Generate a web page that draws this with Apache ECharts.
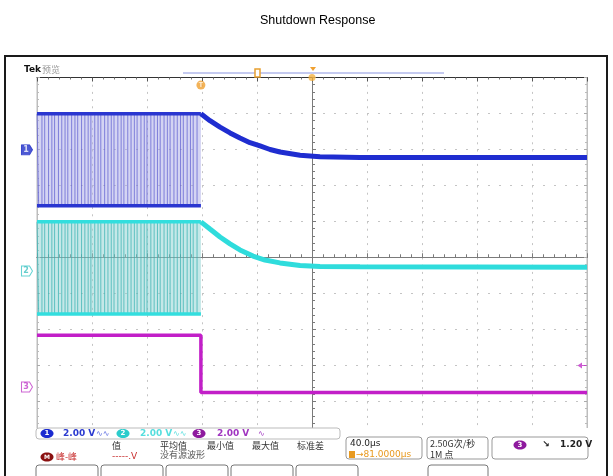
<!DOCTYPE html>
<html><head><meta charset="utf-8">
<script src="https://cdn.jsdelivr.net/npm/echarts@6/dist/echarts.min.js"></script>
<style>html,body{margin:0;padding:0;background:#fff}#main{width:613px;height:476px}</style>
</head><body><div id="main"></div>
<script>
// time axis in µs (40 µs/div), vertical axis in divisions
const timeMin = -200, timeMax = 200, timeDiv = 40;
const vMin = -5, vMax = 5;
const switchEnd = -80.8;
const switchEdges = [-198.8,-196.4,-194.4,-191.6,-189.2,-187.2,-184.4,-182.0,-179.6,-177.6,-174.8,-172.4,-170.4,-167.6,-165.2,-162.8,-160.8,-158.0,-155.6,-153.6,-150.8,-148.4,-146.0,-144.0,-141.2,-138.8,-136.8,-134.0,-131.6,-129.2,-127.2,-124.4,-122.0,-120.0,-117.2,-114.8,-112.4,-110.4,-107.6,-105.2,-103.2,-100.4,-98.0,-95.6,-93.6,-90.8,-88.4,-86.4,-83.6];
const ch1High = 3.99, ch1Low = 1.44;
const ch2High = 0.99, ch2Low = -1.57;
const ch1DecayT = [-80.8,-74.2,-66.9,-59.6,-52.4,-45.1,-37.8,-30.5,-23.3,-8.7,5.8,34.9,200];
const ch1DecayV = [3.99,3.80,3.62,3.46,3.32,3.19,3.10,3.00,2.93,2.84,2.80,2.78,2.78];
const ch2DecayT = [-80.8,-74.2,-66.9,-59.6,-52.4,-42.9,-34.2,-23.3,-8.7,5.8,34.9,200];
const ch2DecayV = [0.99,0.79,0.57,0.38,0.21,0.04,-0.07,-0.15,-0.22,-0.25,-0.26,-0.27];
const ch3T = [-200,-80.8,-80.8,200];
const ch3V = [-2.16,-2.16,-3.75,-3.75];
const chGround = [2.99, -0.375, -3.6];
const trigLevel = -3.0;
const trigMark = [-80.8, 4.79];

const pairs = (t, v) => t.map((x, i) => [x, v[i]]);
function zigzag(hi, lo) {
  const d = [[timeMin, hi]];
  let cur = hi;
  switchEdges.forEach(t => { d.push([t, cur]); cur = (cur === hi ? lo : hi); d.push([t, cur]); });
  d.push([switchEnd, cur]);
  return d;
}
const lineBase = {type:'line', symbol:'none', silent:true, animation:false};
function switching(hi, lo, stripe, fill, band) {
  return [
    Object.assign({}, lineBase, {data: zigzag(hi, lo), lineStyle:{color:stripe, width:1},
      markArea:{silent:true, itemStyle:{color:fill}, data:[[{coord:[timeMin, lo]}, {coord:[switchEnd, hi]}]]}}),
    Object.assign({}, lineBase, {data:[[timeMin, hi],[switchEnd, hi]], lineStyle:{color:band, width:3.5}}),
    Object.assign({}, lineBase, {data:[[timeMin, lo],[switchEnd, lo]], lineStyle:{color:band, width:3.5}})
  ];
}
function marker(v, fill, stroke, txt, txtColor) {
  return {type:'scatter', clip:false, silent:true, animation:false, z:5,
    symbol:'path://M0,0 L8,0 L11,5 L8,10 L0,10 Z', symbolSize:[11,10], symbolOffset:[-10,0],
    itemStyle:{color:fill, borderColor:stroke, borderWidth:1},
    label:{show:true, position:'inside', offset:[-1,0], formatter:txt, fontSize:8, fontWeight:'bold', color:txtColor, fontFamily:'DejaVu Sans'},
    data:[[timeMin, v]]};
}
const gridGray = '#c4c4c4';
const ftxt = (x, y, text, color, size, extra) => Object.assign({type:'text', x, y, z:100,
  style:Object.assign({text, fill:color, font:(size||9)+'px "DejaVu Sans"', textVerticalAlign:'middle'}, extra||{})});
const ell = (cx, cy, color, t) => [
  {type:'ellipse', z:100, shape:{cx, cy, rx:6.5, ry:4.5}, style:{fill:color}},
  {type:'text', z:101, x:cx, y:cy, style:{text:t, fill:'#fff', font:'bold 7px "DejaVu Sans"', textAlign:'center', textVerticalAlign:'middle'}}
];
const rrect = (x, y, w, h, stroke) => ({type:'rect', z:100, shape:{x, y, width:w, height:h, r:3}, style:{fill:'none', stroke:stroke||'#999', lineWidth:1}});

const option = {
  backgroundColor:'#fff',
  animation:false,
  title:{text:'Shutdown Response', left:255, top:9, textStyle:{fontSize:12.5, fontWeight:'normal', color:'#000', fontFamily:'Liberation Sans'}},
  grid:{left:37, top:77.5, width:550, height:360, show:true, borderColor:'#bdbdbd', borderWidth:1},
  xAxis:[
    {type:'value', min:timeMin, max:timeMax, interval:timeDiv, axisLine:{onZero:true, onZeroAxisIndex:0, lineStyle:{color:'#7a7a7a'}},
      axisTick:{show:true, inside:true, length:4, lineStyle:{color:'#7a7a7a'}}, minorTick:{show:true, splitNumber:5, length:3, lineStyle:{color:'#7a7a7a'}},
      axisLabel:{show:false}, splitLine:{show:true, lineStyle:{color:gridGray, type:[2,5.2]}}, minorSplitLine:{show:false}},
    {type:'value', position:'top', min:timeMin, max:timeMax, interval:timeDiv, axisLine:{onZero:false, lineStyle:{color:'#333', width:1}},
      axisTick:{show:true, inside:true, length:4, lineStyle:{color:'#555'}}, minorTick:{show:true, splitNumber:5, length:2, lineStyle:{color:'#777'}},
      axisLabel:{show:false}, splitLine:{show:false}},
    {type:'value', min:timeMin, max:timeMax, interval:timeDiv, axisLine:{onZero:true, onZeroAxisIndex:0, lineStyle:{color:'#7a7a7a'}},
      axisTick:{show:true, inside:false, length:4, lineStyle:{color:'#7a7a7a'}}, minorTick:{show:true, splitNumber:5, length:3, lineStyle:{color:'#7a7a7a'}},
      axisLabel:{show:false}, splitLine:{show:false}}
  ],
  yAxis:[
    {type:'value', min:vMin, max:vMax, interval:1, axisLine:{show:true, onZero:true, onZeroAxisIndex:0, lineStyle:{color:'#7a7a7a'}},
      axisTick:{show:true, inside:true, length:4, lineStyle:{color:'#7a7a7a'}}, minorTick:{show:true, splitNumber:5, length:3, lineStyle:{color:'#7a7a7a'}},
      axisLabel:{show:false}, splitLine:{show:true, lineStyle:{color:gridGray, type:[2,9]}}},
    {type:'value', position:'right', min:vMin, max:vMax, interval:1, axisLine:{show:true, onZero:false, lineStyle:{color:'#bdbdbd'}},
      axisTick:{show:true, inside:true, length:3, lineStyle:{color:'#aaa'}}, minorTick:{show:true, splitNumber:5, length:2, lineStyle:{color:'#bbb'}},
      axisLabel:{show:false}, splitLine:{show:false}},
    {type:'value', position:'left', min:vMin, max:vMax, interval:1, axisLine:{show:true, onZero:false, lineStyle:{color:'#bdbdbd'}},
      axisTick:{show:true, inside:true, length:3, lineStyle:{color:'#aaa'}}, minorTick:{show:true, splitNumber:5, length:2, lineStyle:{color:'#bbb'}},
      axisLabel:{show:false}, splitLine:{show:false}},
    {type:'value', min:vMin, max:vMax, interval:1, axisLine:{show:true, onZero:true, onZeroAxisIndex:0, lineStyle:{color:'#7a7a7a'}},
      axisTick:{show:true, inside:false, length:4, lineStyle:{color:'#7a7a7a'}}, minorTick:{show:true, splitNumber:5, length:3, lineStyle:{color:'#7a7a7a'}},
      axisLabel:{show:false}, splitLine:{show:false}}
  ],
  series:[
    ...switching(ch1High, ch1Low, 'rgba(80,80,205,0.65)', 'rgba(170,170,232,0.5)', '#2a36d0'),
    Object.assign({}, lineBase, {data:pairs(ch1DecayT, ch1DecayV), lineStyle:{color:'#1f2dd0', width:5}}),
    ...switching(ch2High, ch2Low, 'rgba(50,175,175,0.7)', 'rgba(140,210,210,0.5)', '#33dede'),
    Object.assign({}, lineBase, {data:pairs(ch2DecayT, ch2DecayV), lineStyle:{color:'#2fdcdc', width:5}}),
    Object.assign({}, lineBase, {data:pairs(ch3T, ch3V), lineStyle:{color:'#c21fc8', width:3.5}}),
    marker(chGround[0], '#2030c8', '#2030c8', '1', '#fff'),
    marker(chGround[1], '#fff', '#40c8c8', '2', '#40c0c0'),
    marker(chGround[2], '#fff', '#c040c8', '3', '#c040c8'),
    {type:'scatter', clip:false, silent:true, animation:false, z:5, symbol:'path://M0,5 L6,0 L6,4 L12,4 L12,6 L6,6 L6,10 Z', symbolSize:[9,6], symbolOffset:[-5,0],
      itemStyle:{color:'#c030c8'}, data:[[timeMax, trigLevel]]},
    {type:'scatter', clip:false, silent:true, animation:false, z:5, symbol:'circle', symbolSize:9, itemStyle:{color:'#f0a030'},
      label:{show:true, position:'inside', formatter:'T', fontSize:7, color:'#fff', fontWeight:'bold'}, data:[trigMark]},
    {type:'scatter', clip:false, silent:true, animation:false, z:5, symbol:'circle', symbolSize:7, itemStyle:{color:'#f2b040'}, data:[[0, vMax]]}
  ],
  graphic:[
    {type:'rect', z:99, shape:{x:6, y:428, width:600, height:48}, style:{fill:'#fff'}},
    {type:'rect', z:120, shape:{x:5, y:56, width:602, height:440}, style:{fill:'none', stroke:'#1a1a1a', lineWidth:2}},
    ftxt(24, 70, 'Tek', '#111', 9, {font:'bold 9px "DejaVu Sans"'}),
    ftxt(42, 70, '预览', '#999', 9, {font:'9px "Noto Sans CJK SC"'}),
    {type:'line', z:100, shape:{x1:183, y1:73, x2:444, y2:73}, style:{stroke:'#8a95e0', lineWidth:1}},
    {type:'rect', z:101, shape:{x:255, y:69, width:5, height:8}, style:{fill:'#fff', stroke:'#e8a030', lineWidth:1.5}},
    {type:'polygon', z:101, shape:{points:[[310,67],[316,67],[313,71]]}, style:{fill:'#f0a030'}},
    rrect(36, 428, 304, 11, '#bbb'),
    ...ell(47, 433.5, '#1a2ad0', '1'),
    ftxt(63, 433.5, '2.00 V', '#2a3ad0', 9, {font:'bold 9px "DejaVu Sans"'}),
    ftxt(96, 433.5, '∿∿', '#5a6ae0', 8),
    ...ell(123, 433.5, '#2ccccc', '2'),
    ftxt(140, 433.5, '2.00 V', '#55dede', 9, {font:'bold 9px "DejaVu Sans"'}),
    ftxt(173, 433.5, '∿∿', '#55dede', 8),
    ...ell(199, 433.5, '#8e1a9e', '3'),
    ftxt(217, 433.5, '2.00 V', '#a035c0', 9, {font:'bold 9px "DejaVu Sans"'}),
    ftxt(258, 433.5, '∿', '#a035c0', 8),
    ftxt(112, 446, '值', '#333', 9, {font:'9px "Noto Sans CJK SC"'}),
    ftxt(160, 446, '平均值', '#333', 9, {font:'9px "Noto Sans CJK SC"'}),
    ftxt(207, 446, '最小值', '#333', 9, {font:'9px "Noto Sans CJK SC"'}),
    ftxt(252, 446, '最大值', '#333', 9, {font:'9px "Noto Sans CJK SC"'}),
    ftxt(297, 446, '标准差', '#333', 9, {font:'9px "Noto Sans CJK SC"'}),
    {type:'ellipse', z:100, shape:{cx:47, cy:457, rx:6.5, ry:4.5}, style:{fill:'#8a1010'}},
    {type:'text', z:101, x:47, y:457, style:{text:'M', fill:'#fff', font:'bold 6px "DejaVu Sans"', textAlign:'center', textVerticalAlign:'middle'}},
    ftxt(56, 457, '峰-峰', '#c83030', 9, {font:'9px "Noto Sans CJK SC"'}),
    ftxt(112, 457, '-----.V', '#c83030', 9),
    ftxt(160, 455, '没有源波形', '#555', 9, {font:'9px "Noto Sans CJK SC"'}),
    rrect(346, 437, 76, 22),
    ftxt(350, 443.5, '40.0µs', '#222', 9),
    {type:'rect', z:101, shape:{x:349, y:451, width:6, height:7}, style:{fill:'#e89a20'}},
    ftxt(356, 454.5, '→81.0000µs', '#e89a20', 9),
    rrect(427, 437, 61, 22),
    ftxt(430, 443.5, '2.50G次/秒', '#333', 9, {font:'9px "Noto Sans CJK SC"'}),
    ftxt(430, 454.5, '1M 点', '#333', 9, {font:'9px "Noto Sans CJK SC"'}),
    rrect(492, 437, 96, 22),
    ...ell(520, 445, '#8e1a9e', '3'),
    ftxt(542, 445, '↘', '#222', 9, {font:'bold 9px "DejaVu Sans"'}),
    ftxt(560, 445, '1.20 V', '#222', 9, {font:'bold 9px "DejaVu Sans"'}),
    rrect(36, 465, 62, 20, '#777'),
    rrect(101, 465, 62, 20, '#777'),
    rrect(166, 465, 62, 20, '#777'),
    rrect(231, 465, 62, 20, '#777'),
    rrect(296, 465, 62, 20, '#777'),
    rrect(428, 465, 60, 20, '#777')
  ]
};
const chart = echarts.init(document.getElementById('main'), null, {renderer:'canvas'});
chart.setOption(option);
</script>
</body></html>
